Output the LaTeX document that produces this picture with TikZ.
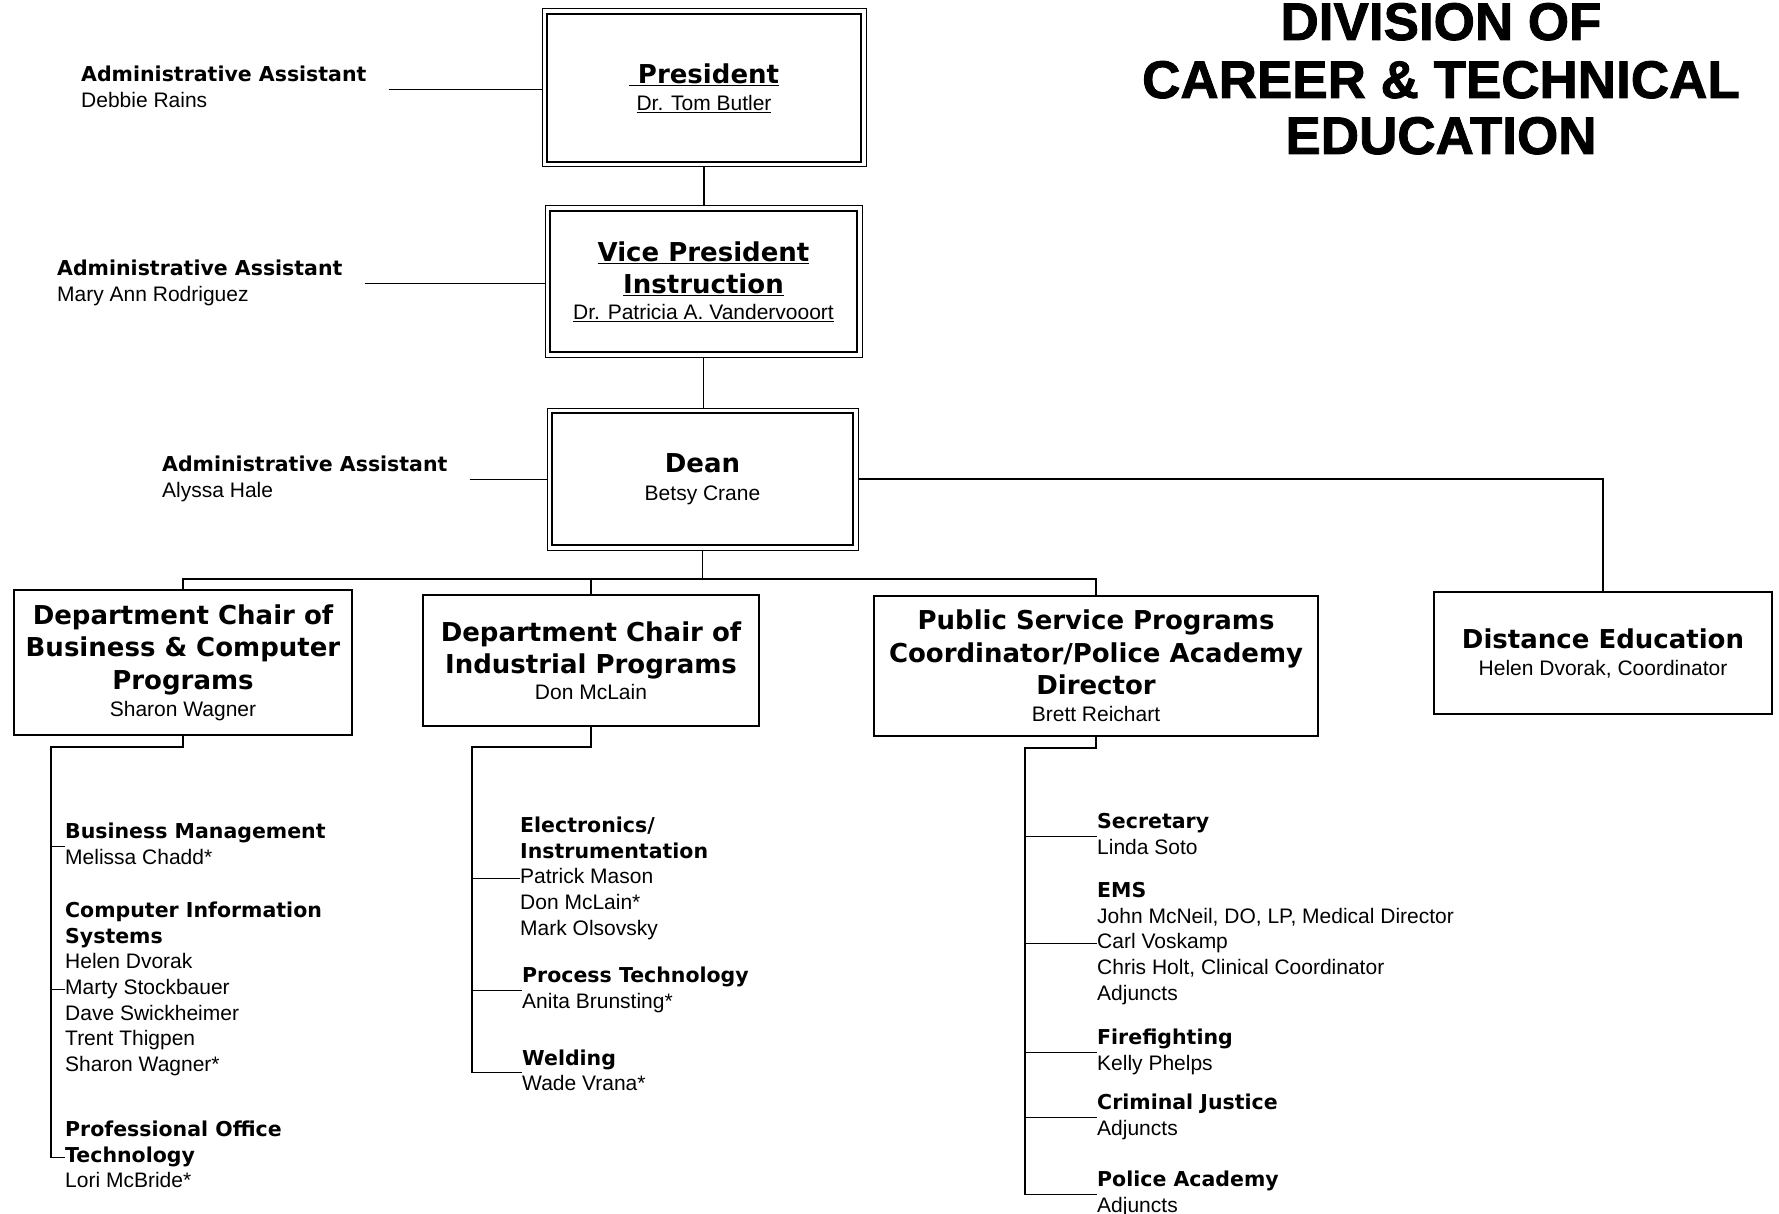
\documentclass[tikz,border=0pt]{standalone}
\usepackage{fontspec}
\setmainfont{Liberation Sans}
\newfontfamily\dvf{DejaVu Sans}
\newfontfamily\ttlf{Liberation Sans Bold}[FakeBold=1.6]
\usetikzlibrary{calc}
\newcommand\hdsm{\dvf\bfseries\fontsize{20.5}{25.6}\selectfont}
\newcommand\rg{\normalfont\fontsize{21}{25.6}\selectfont}
\newcommand\boxhd{\dvf\bfseries\fontsize{26}{32.5}\selectfont}
\newcommand\ttl{\ttlf\fontsize{53}{57}\selectfont}
\newcommand\myul[1]{$\underline{\hbox{#1}}$}
\newcommand\bh[1]{{\hdsm\strut#1}}
\begin{document}
\begin{tikzpicture}[x=1pt,y=-1pt,
  conn/.style={line width=1.3pt},
  thin/.style={line width=1pt},
  dblbox/.style={draw, line width=1pt, inner sep=0pt, align=center, font=\boxhd},
  onebox/.style={draw, line width=2pt, inner sep=0pt, align=center, font=\boxhd},
  listblk/.style={anchor=north west, inner sep=0pt, align=left, font=\rg},
  titlenode/.style={anchor=base, inner sep=0pt, font=\ttl}]
\useasboundingbox (0,0) rectangle (1779,1214);

% title
\node[titlenode] (ti1) at (1441,40) {DIVISION OF};
\node[titlenode] (ti2) at (1441,98) {CAREER \& TECHNICAL};
\node[titlenode] (ti3) at (1441,154) {EDUCATION};

% top boxes
\node[dblbox, minimum width=324pt, minimum height=158pt] (pres) at (704,88)
  {\myul{\ President}\\[-5.5pt]{\rg\myul{Dr. Tom Butler}}};
\node[dblbox, minimum width=317pt, minimum height=151pt] (vp) at (703.5,281.5)
  {\myul{Vice President}\\\myul{Instruction}\\[-6.5pt]{\rg\myul{Dr. Patricia A. Vandervooort}}};
\node[dblbox, minimum width=311pt, minimum height=142pt] (dean) at (702.5,479)
  {Dean\\[-4.5pt]{\rg Betsy Crane}};
\foreach \n in {pres,vp,dean}{
  \draw[line width=2.8pt] ([shift={(5.5pt,5.5pt)}]\n.south west) rectangle ([shift={(-5.5pt,-5.5pt)}]\n.north east);
}

% admin assistants
\node[listblk] (a1) at (81,63.6) {\bh{Administrative Assistant}\\\strut Debbie Rains};
\node[listblk] (a2) at (57,257.6) {\bh{Administrative Assistant}\\\strut Mary Ann Rodriguez};
\node[listblk] (a3) at (162,453.6) {\bh{Administrative Assistant}\\\strut Alyssa Hale};
\draw[thin] ([xshift=22pt]a1.east) -- (a1.east -| pres.west);
\draw[thin] ([xshift=22pt]a2.east) -- (a2.east -| vp.west);
\draw[thin] ([xshift=22pt]a3.east) -- (a3.east -| dean.west);

% second level boxes
\node[onebox, minimum width=338pt, minimum height=145pt] (d1) at (183,662.5)
  {Department Chair of\\Business \& Computer\\Programs\\[-5.5pt]{\rg Sharon Wagner}};
\node[onebox, minimum width=336pt, minimum height=131pt] (d2) at (591,660.5)
  {Department Chair of\\Industrial Programs\\[-6.5pt]{\rg Don McLain}};
\node[onebox, minimum width=444pt, minimum height=140pt] (ps) at (1096,666)
  {Public Service Programs\\Coordinator/Police Academy\\Director\\[-5.5pt]{\rg Brett Reichart}};
\node[onebox, minimum width=338pt, minimum height=122pt] (de) at (1603,653)
  {Distance Education\\[-5.5pt]{\rg Helen Dvorak, Coordinator}};

% top connectors
\draw[conn] (pres.south) -- (pres.south |- vp.north);
\draw[conn] (vp.south) -- (vp.south |- dean.north);
\coordinate (busR) at (1096,579);
\draw[conn] (dean.south) -- (dean.south |- busR);
\draw[conn] (d1.north) |- (busR) -- (ps.north);
\draw[conn] (d2.north) -- (d2.north |- busR);
\draw[conn] (dean.east) -| (de.north);

% Business & Computer programs
\node[listblk] (bm) at (65,820.6) {\bh{Business Management}\\\strut Melissa Chadd*};
\node[listblk] (ci) at (65,899.6) {\bh{Computer Information}\\\bh{Systems}\\\strut Helen Dvorak\\\strut Marty Stockbauer\\\strut Dave Swickheimer\\\strut Trent Thigpen\\\strut Sharon Wagner*};
\node[listblk] (po) at (65,1118.6) {\bh{Professional Office}\\\bh{Technology}\\\strut Lori McBride*};
\coordinate (t1) at (51,747);
\draw[conn] (d1.south) |- (t1) |- (po.west);
\draw[conn] (t1 |- bm.west) -- (bm.west);
\draw[conn] (t1 |- ci.west) -- (ci.west);

% Industrial programs
\node[listblk] (el) at (520,814.6) {\bh{Electronics/}\\\bh{Instrumentation}\\\strut Patrick Mason\\\strut Don McLain*\\\strut Mark Olsovsky};
\node[listblk] (pt) at (522,964.6) {\bh{Process Technology}\\\strut Anita Brunsting*};
\node[listblk] (wd) at (522,1047) {\bh{Welding}\\\strut Wade Vrana*};
\coordinate (t2) at (472,747);
\draw[conn] (d2.south) |- (t2) |- (wd.west);
\draw[conn] (t2 |- el.west) -- (el.west);
\draw[conn] (t2 |- pt.west) -- (pt.west);

% Public service programs
\node[listblk] (sec) at (1097,810.6) {\bh{Secretary}\\\strut Linda Soto};
\node[listblk] (ems) at (1097,879.6) {\bh{EMS}\\\strut John McNeil, DO, LP, Medical Director\\\strut Carl Voskamp\\\strut Chris Holt, Clinical Coordinator\\\strut Adjuncts};
\node[listblk] (ff) at (1097,1026.6) {\bh{Firefighting}\\\strut Kelly Phelps};
\node[listblk] (cj) at (1097,1091.6) {\bh{Criminal Justice}\\\strut Adjuncts};
\node[listblk] (pa) at (1097,1168.6) {\bh{Police Academy}\\\strut Adjuncts};
\coordinate (t3) at (1025,748);
\draw[conn] (ps.south) |- (t3) |- (pa.west);
\foreach \n in {sec,ems,ff,cj}{
  \draw[conn] (t3 |- \n.west) -- (\n.west);
}
\end{tikzpicture}
\end{document}
